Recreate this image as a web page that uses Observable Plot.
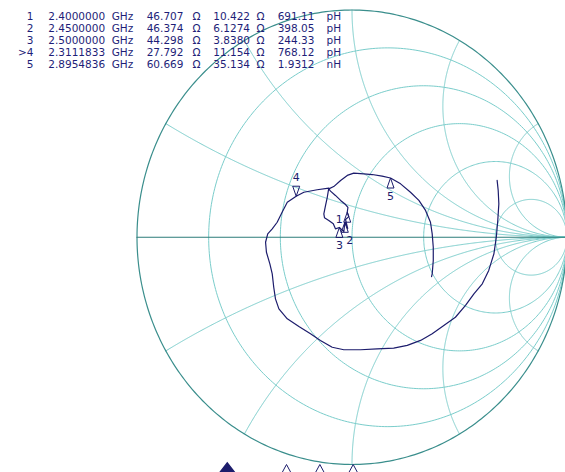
<!DOCTYPE html>
<html><head><meta charset="utf-8">
<script src="https://cdn.jsdelivr.net/npm/d3@7"></script>
<script src="https://cdn.jsdelivr.net/npm/@observablehq/plot@0.6"></script>
<style>
html,body{margin:0;padding:0;background:#fff;overflow:hidden;}
#wrap{position:relative;width:565px;height:472px;overflow:hidden;background:#fff;}
#wrap svg{position:absolute;left:0;top:0;}
.col{position:absolute;top:11px;font-family:"DejaVu Sans",sans-serif;font-size:10.5px;line-height:11.9px;color:#1e1e78;white-space:pre;}
</style></head><body><div id="wrap"></div>
<script>
// ---- data ----
const markerIds = ["1", "2", "3", ">4", "5"];
const markerFreqGHz = [2.4, 2.45, 2.5, 2.3111833, 2.8954836];
const markerR = [46.707, 46.374, 44.298, 27.792, 60.669];      // ohm
const markerX = [10.422, 6.1274, 3.8380, 11.154, 35.134];      // ohm
const markerLnH = [0.69111, 0.39805, 0.24433, 0.76812, 1.9312]; // nH
const z0 = 50;
const resistanceCircles = [0.2, 0.5, 1, 2, 5];
const reactanceArcs = [0.268, 0.577, 1, 1.732, 3.732];
// trace, reflection coefficient (real, imaginary)
const traceRe = [0.675,0.680,0.683,0.678,0.671,0.660,0.636,0.606,0.567,0.528,0.481,0.427,0.373,0.319,0.257,0.194,0.117,0.040,-0.038,-0.092,-0.147,-0.193,-0.247,-0.301,-0.340,-0.356,-0.364,-0.371,-0.382,-0.398,-0.402,-0.392,-0.371,-0.348,-0.325,-0.301,-0.2596,-0.224,-0.162,-0.108,-0.115,-0.123,-0.131,-0.128,-0.108,-0.087,-0.077,-0.0587,-0.038,-0.0334,-0.020,-0.030,-0.015,-0.0222,-0.019,-0.030,-0.053,-0.077,-0.100,-0.108,-0.085,-0.053,-0.022,0.008,0.055,0.094,0.140,0.1791,0.226,0.272,0.311,0.342,0.365,0.373,0.378,0.378,0.373,0.370];
const traceIm = [0.250,0.206,0.147,0.074,-0.002,-0.073,-0.146,-0.205,-0.249,-0.300,-0.352,-0.388,-0.425,-0.454,-0.476,-0.488,-0.491,-0.495,-0.495,-0.484,-0.454,-0.425,-0.393,-0.359,-0.315,-0.271,-0.220,-0.161,-0.117,-0.066,-0.022,0.015,0.037,0.066,0.110,0.154,0.1806,0.198,0.209,0.216,0.176,0.140,0.103,0.086,0.074,0.059,0.037,0.0431,0.025,0.0657,0.039,0.078,0.091,0.1101,0.131,0.144,0.162,0.184,0.203,0.213,0.223,0.250,0.272,0.282,0.279,0.276,0.269,0.2606,0.235,0.198,0.162,0.118,0.066,0.015,-0.044,-0.102,-0.161,-0.173];

// ---- helpers ----
function gammaOf(r, x) {
  const d = (r + 1) * (r + 1) + x * x;
  return [(r * r - 1 + x * x) / d, (2 * x) / d];
}
const trace = traceRe.map((re, i) => ({re, im: traceIm[i]}));
const markers = markerIds.map((id, i) => {
  const [re, im] = gammaOf(markerR[i] / z0, markerX[i] / z0);
  return {id: id.replace(">", ""), re, im, f: markerFreqGHz[i], active: id.startsWith(">")};
});

const grid = [];
resistanceCircles.forEach(r => {
  const c = r / (1 + r), rad = 1 / (1 + r);
  for (let i = 0; i <= 360; i++) {
    const t = i * Math.PI / 180;
    grid.push({id: "r" + r, re: c + rad * Math.cos(t), im: rad * Math.sin(t)});
  }
});
reactanceArcs.forEach(x0 => [x0, -x0].forEach(x => {
  const n = 500;
  for (let i = 0; i <= n; i++) {
    const r = i === n ? 1e9 : Math.tan(i / n * Math.PI / 2);
    const [a, b] = gammaOf(r, x);
    grid.push({id: "x" + x, re: a, im: b});
  }
}));
const outer = d3.range(0, 361).map(i => ({re: Math.cos(i * Math.PI / 180), im: Math.sin(i * Math.PI / 180)}));
const realAxis = [{re: -1, im: 0}, {re: 1, im: 0}];

const triUp = {draw(ctx) { ctx.moveTo(0, 0); ctx.lineTo(3.5, 10); ctx.lineTo(-3.5, 10); ctx.closePath(); }};
const triDown = {draw(ctx) { ctx.moveTo(0, 0); ctx.lineTo(3.5, -10); ctx.lineTo(-3.5, -10); ctx.closePath(); }};
const bigTri = {draw(ctx) { ctx.moveTo(0, 0); ctx.lineTo(6.5, 12); ctx.lineTo(-6.5, 12); ctx.closePath(); }};
const bigDiamond = {draw(ctx) { ctx.moveTo(0, 0); ctx.lineTo(7, 9); ctx.lineTo(0, 18); ctx.lineTo(-7, 9); ctx.closePath(); }};

const navy = "#1c1c6c";
const m1 = markers.filter(m => m.id === "1");
const m2 = markers.filter(m => m.id === "2");
const m35 = markers.filter(m => m.id === "3" || m.id === "5");
const above = markers.filter(m => m.active);

const main = Plot.plot({
  width: 565, height: 472, margin: 0,
  x: {domain: [-1, 1], range: [136.5, 566.5], axis: null},
  y: {domain: [-1, 1], range: [464, 9.5], axis: null},
  style: {background: "transparent", fontFamily: "DejaVu Sans", fontSize: "11px"},
  marks: [
    Plot.line(grid, {x: "re", y: "im", z: "id", stroke: "#7acdcb", strokeWidth: 1}),
    Plot.line(outer, {x: "re", y: "im", stroke: "#3a8e8c", strokeWidth: 1.2}),
    Plot.line(realAxis, {x: "re", y: "im", stroke: "#2c7c7a", strokeWidth: 1.2}),
    Plot.line(trace, {x: "re", y: "im", stroke: navy, strokeWidth: 1.2}),
    Plot.dot(m35.concat(m1, m2), {x: "re", y: "im", symbol: triUp, stroke: navy, fill: "none", strokeWidth: 1}),
    Plot.dot(above, {x: "re", y: "im", symbol: triDown, stroke: navy, fill: "none", strokeWidth: 1}),
    Plot.text(m35, {x: "re", y: "im", text: "id", dy: 18, fill: navy}),
    Plot.text(m2, {x: "re", y: "im", text: "id", dx: 5, dy: 18, fill: navy}),
    Plot.text(m1, {x: "re", y: "im", text: "id", dx: -8, dy: 7, fill: navy}),
    Plot.text(above, {x: "re", y: "im", text: "id", dy: -19, fill: navy})
  ]
});

const strip = Plot.plot({
  width: 565, height: 20, margin: 0,
  x: {domain: [2.4, 2.5], range: [286, 352.7], axis: null},
  y: {domain: [0, 1], range: [20, 0], axis: null},
  style: {background: "transparent"},
  marks: [
    Plot.dot(markers.filter(m => !m.active), {x: "f", y: 0.4, symbol: bigTri, stroke: navy, fill: "white", strokeWidth: 1}),
    Plot.dot(markers.filter(m => m.active), {x: "f", y: 0.48, symbol: bigDiamond, fill: navy, stroke: navy})
  ]
});
strip.style.top = "452px";

const wrap = document.getElementById("wrap");
wrap.appendChild(main);
wrap.appendChild(strip);

// marker table
function lValue(v) { return v < 1 ? (v * 1000).toPrecision(5) : v.toPrecision(5); }
function lUnit(v) { return v < 1 ? "pH" : "nH"; }
const cols = [
  {left: 0, width: 33.5, align: "right", lines: markerIds},
  {left: 48.3, lines: markerFreqGHz.map(f => f.toFixed(7))},
  {left: 111.7, lines: markerFreqGHz.map(() => "GHz")},
  {left: 146.7, lines: markerR.map(v => v.toPrecision(5))},
  {left: 192.5, lines: markerR.map(() => "Ω")},
  {left: 213.3, lines: markerX.map(v => v.toPrecision(5))},
  {left: 256.5, lines: markerX.map(() => "Ω")},
  {left: 277.7, lines: markerLnH.map(lValue)},
  {left: 326.5, lines: markerLnH.map(lUnit)}
];
cols.forEach(c => {
  const d = document.createElement("div");
  d.className = "col";
  d.style.left = c.left + "px";
  if (c.width) { d.style.width = c.width + "px"; d.style.textAlign = c.align; }
  d.textContent = c.lines.join("\n");
  wrap.appendChild(d);
});
</script></body></html>
